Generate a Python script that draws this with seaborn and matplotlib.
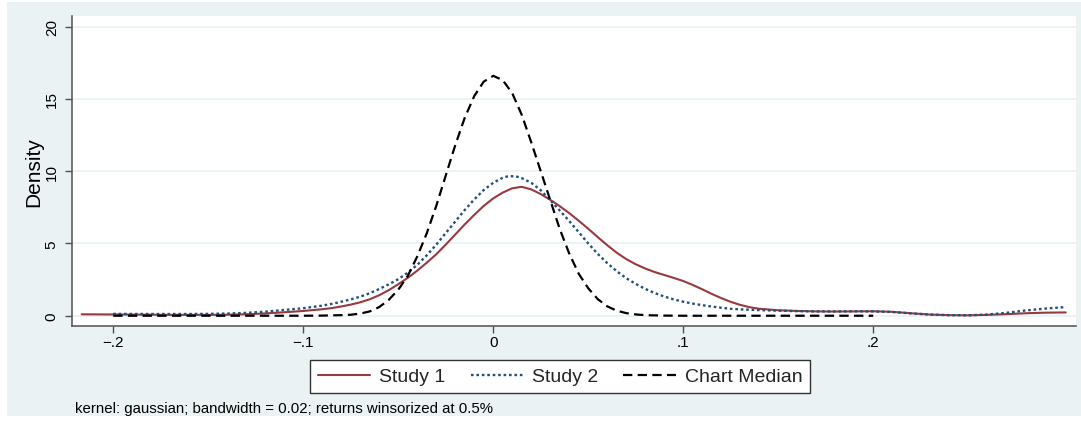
import numpy as np
import pandas as pd
import matplotlib
matplotlib.use("Agg")
import matplotlib.pyplot as plt
from matplotlib.patches import Rectangle
from matplotlib.lines import Line2D
import seaborn as sns

# ---------------- data ----------------
series_names = ["Study 1", "Study 2", "Chart Median"]

study1_x = [-0.2166, -0.19, -0.17, -0.15, -0.14, -0.13, -0.12, -0.11, -0.10, -0.09,
            -0.085, -0.08, -0.075, -0.07, -0.065, -0.06, -0.055, -0.05, -0.045, -0.04,
            -0.035, -0.03, -0.025, -0.02, -0.015, -0.01, -0.005, 0.0, 0.005, 0.01,
            0.015, 0.02, 0.025, 0.03, 0.035, 0.04, 0.045, 0.05, 0.055, 0.06,
            0.065, 0.07, 0.075, 0.08, 0.085, 0.09, 0.095, 0.10, 0.105, 0.11,
            0.115, 0.12, 0.125, 0.13, 0.135, 0.14, 0.15, 0.16, 0.17, 0.18,
            0.19, 0.20, 0.21, 0.22, 0.23, 0.24, 0.25, 0.26, 0.27, 0.28,
            0.29, 0.3013]
study1_y = [0.10, 0.08, 0.06, 0.06, 0.07, 0.10, 0.16, 0.24, 0.33, 0.45,
            0.53, 0.64, 0.77, 0.93, 1.14, 1.42, 1.77, 2.18, 2.62, 3.12,
            3.67, 4.25, 4.92, 5.62, 6.32, 6.98, 7.60, 8.12, 8.52, 8.82,
            8.92, 8.74, 8.42, 8.02, 7.58, 7.10, 6.57, 6.02, 5.44, 4.88,
            4.36, 3.92, 3.56, 3.27, 3.02, 2.82, 2.62, 2.40, 2.13, 1.83,
            1.51, 1.22, 0.96, 0.75, 0.59, 0.48, 0.38, 0.33, 0.30, 0.29,
            0.30, 0.31, 0.27, 0.17, 0.08, 0.04, 0.03, 0.06, 0.11, 0.17,
            0.21, 0.23]

study2_x = [-0.20, -0.18, -0.16, -0.15, -0.14, -0.13, -0.12, -0.11, -0.10, -0.09,
            -0.085, -0.08, -0.075, -0.07, -0.065, -0.06, -0.055, -0.05, -0.045, -0.04,
            -0.035, -0.03, -0.025, -0.02, -0.015, -0.01, -0.005, 0.0, 0.005, 0.008,
            0.012, 0.015, 0.02, 0.025, 0.03, 0.035, 0.04, 0.045, 0.05, 0.055,
            0.06, 0.065, 0.07, 0.075, 0.08, 0.085, 0.09, 0.095, 0.10, 0.105,
            0.11, 0.115, 0.12, 0.125, 0.13, 0.14, 0.15, 0.16, 0.17, 0.18,
            0.19, 0.20, 0.21, 0.22, 0.23, 0.24, 0.25, 0.26, 0.27, 0.28,
            0.29, 0.3013]
study2_y = [0.13, 0.12, 0.12, 0.13, 0.15, 0.20, 0.28, 0.40, 0.52, 0.70,
            0.82, 0.97, 1.13, 1.32, 1.56, 1.85, 2.17, 2.53, 2.98, 3.52,
            4.18, 4.92, 5.72, 6.52, 7.32, 8.05, 8.70, 9.20, 9.55, 9.66,
            9.64, 9.52, 9.20, 8.68, 8.00, 7.28, 6.55, 5.78, 5.00, 4.28,
            3.64, 3.08, 2.60, 2.20, 1.86, 1.57, 1.33, 1.13, 0.97, 0.84,
            0.73, 0.64, 0.55, 0.48, 0.44, 0.39, 0.35, 0.32, 0.30, 0.30,
            0.31, 0.30, 0.26, 0.16, 0.08, 0.04, 0.03, 0.08, 0.20, 0.36,
            0.49, 0.60]

median_x = [-0.20, -0.15, -0.10, -0.09, -0.08, -0.075, -0.07, -0.065, -0.06, -0.055,
            -0.05, -0.045, -0.04, -0.035, -0.03, -0.025, -0.02, -0.015, -0.01, -0.005,
            0.0, 0.005, 0.01, 0.015, 0.02, 0.025, 0.03, 0.035, 0.04, 0.045,
            0.05, 0.055, 0.06, 0.065, 0.07, 0.075, 0.08, 0.09, 0.10, 0.15, 0.20]
median_y = [0.0, 0.0, 0.0, 0.01, 0.04, 0.07, 0.15, 0.30, 0.60, 1.10,
            1.80, 2.75, 4.10, 5.70, 7.60, 9.70, 11.80, 13.70, 15.20, 16.20,
            16.60, 16.30, 15.40, 13.90, 12.00, 10.00, 8.00, 6.00, 4.30, 2.90,
            1.90, 1.15, 0.65, 0.35, 0.18, 0.09, 0.04, 0.01, 0.0, 0.0, 0.0]

xtick_values = [-0.2, -0.1, 0.0, 0.1, 0.2]
xtick_labels = ["\u2212.2", "\u2212.1", "0", ".1", ".2"]
ytick_values = [0, 5, 10, 15, 20]
ytick_labels = ["0", "5", "10", "15", "20"]
note_text = "kernel: gaussian; bandwidth = 0.02; returns winsorized at 0.5%"

# ---------------- styling ----------------
sns.set_theme(style="white")
plt.rcParams["font.family"] = ["Liberation Sans", "DejaVu Sans"]

colors = {"Study 1": "#973A3F", "Study 2": "#22507E", "Chart Median": "#000000"}
styles = {"Study 1": "-", "Study 2": (0, (1.1, 1.2)), "Chart Median": (0, (4.2, 2.4))}
widths = {"Study 1": 1.5, "Study 2": 1.7, "Chart Median": 1.6}

W, H = 1081, 435
fig = plt.figure(figsize=(W / 100, H / 100), dpi=100, facecolor="white")
bg = "#EAF2F3"
fig.patches.append(Rectangle((7 / W, 1 - 417 / H), 1 - 7 / W, (417 - 3) / H,
                             transform=fig.transFigure, facecolor=bg,
                             edgecolor="none", zorder=-10))

ax = fig.add_axes([72 / W, 1 - 327 / H, (1076 - 72) / W, (327 - 17) / H])
ax.set_facecolor("white")
ax.set_zorder(1)

frames = {
    "Study 1": pd.DataFrame({"x": study1_x, "y": study1_y}),
    "Study 2": pd.DataFrame({"x": study2_x, "y": study2_y}),
    "Chart Median": pd.DataFrame({"x": median_x, "y": median_y}),
}
for name in series_names:
    sns.lineplot(data=frames[name], x="x", y="y", ax=ax, color=colors[name],
                 linestyle=styles[name], linewidth=widths[name],
                 estimator=None, sort=False, zorder=3)

ax.set_xlim(-0.2217, 0.3067)
ax.set_ylim(-0.71, 20.74)

for v in ytick_values:
    ax.axhline(v, color=bg, linewidth=1.3, zorder=1)

ax.set_xticks(xtick_values)
ax.set_xticklabels(xtick_labels, fontsize=11)
ax.set_yticks(ytick_values)
ax.set_yticklabels(ytick_labels, fontsize=11)
for lab in ax.get_yticklabels():
    lab.set_rotation(90)
    lab.set_va("center")
    lab.set_ha("right")

spine_col = "#4f4f4f"
for s in ["top", "right"]:
    ax.spines[s].set_visible(False)
for s in ["left", "bottom"]:
    ax.spines[s].set_color(spine_col)
    ax.spines[s].set_linewidth(1.1)
ax.tick_params(axis="both", which="major", direction="out", length=5, width=1.0,
               color=spine_col, labelcolor="black", left=True, bottom=True)
ax.tick_params(axis="x", pad=1.5)
ax.tick_params(axis="y", pad=4.5)

ax.set_xlabel("")
ax.set_ylabel("Density", fontsize=15, color="black", va="center")
ax.yaxis.set_label_coords(-0.0383, 0.5)

handles = [Line2D([0], [0], color=colors[n], linestyle=styles[n], linewidth=widths[n])
           for n in series_names]
leg = fig.legend(handles, series_names, loc="center", bbox_to_anchor=(0.518, 1 - 377.5 / H),
                 ncol=3, frameon=True, fancybox=False, fontsize=14,
                 handlelength=2.7, handletextpad=0.45, columnspacing=1.3,
                 borderpad=0.4, borderaxespad=0)
fr = leg.get_frame()
fr.set_edgecolor("#333333")
fr.set_linewidth(1.0)
fr.set_facecolor("white")
fr.set_alpha(1)

fig.text(75 / W, 1 - 409 / H, note_text, fontsize=10.8, ha="left", va="center", color="black")

fig.savefig("out.png", dpi=100, facecolor=fig.get_facecolor())
